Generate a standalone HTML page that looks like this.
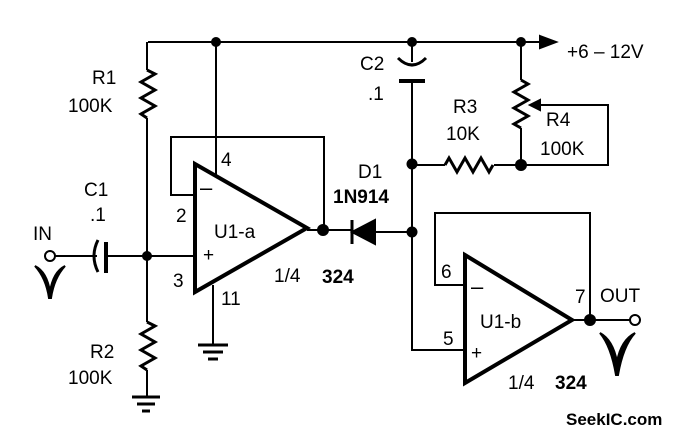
<!DOCTYPE html>
<html><head><style>
html,body{margin:0;padding:0;background:#fff;}
svg{display:block}
text{font-family:"Liberation Sans",sans-serif;fill:#000;}
</style></head><body>
<svg width="678" height="438" viewBox="0 0 678 438" xmlns="http://www.w3.org/2000/svg">
<g stroke="#000" stroke-width="2" fill="none" stroke-linejoin="miter">
<path d="M148 42 H548"/>
<path d="M540 36 L556 42 L540 48 Z" fill="#000"/>
<path d="M147 42 V70 M147 118 V256"/>
<path d="M147 70 l8 4 l-14 8 l14 8 l-14 8 l14 8 l-14 8 l6 4" stroke-width="3"/>
<path d="M147 256 V322 M147 370 V397"/>
<path d="M147 322 l8 4 l-14 8 l14 8 l-14 8 l14 8 l-14 8 l6 4" stroke-width="3"/>
<path d="M132 397 H160 M137 404 H155 M142 411 H150" stroke-width="3"/>
<circle cx="50" cy="256" r="5"/>
<path d="M55 256 H97 M106 256 H147 M195 256 H147"/>
<path d="M98 240 Q90 256 98 272" stroke-width="3"/>
<path d="M106 242 V273" stroke-width="4"/>
<path d="M35 266 Q47 272 50 292 Q53 272 65 266 Q54 278 51 298 L49 298 Q46 278 35 266 Z" fill="#000" stroke-width="2"/>
<path d="M195 164 L307 228 L195 292 Z" stroke-width="4"/>
<path d="M216 42 V176"/>
<path d="M195 195 H171 V137 H324 V230"/>
<path d="M213 285 V345"/>
<path d="M198 345 H228 M203 352 H223 M208 359 H218" stroke-width="3"/>
<path d="M307 230 H352"/>
<path d="M352 232 L375 220 L375 244 Z" fill="#000"/>
<path d="M352 220 V244" stroke-width="3"/>
<path d="M375 232 H412"/>
<path d="M412 42 V62 M412 81 V350 H465"/>
<path d="M398 58 Q412 72 426 58" stroke-width="3"/>
<path d="M399 81 H425" stroke-width="4"/>
<path d="M412 165 H445 M494 165 H521"/>
<path d="M445 165 l4 -7 l8 14 l8 -14 l8 14 l8 -14 l8 14 l4 -7" stroke-width="3"/>
<path d="M521 42 V80 M521 128 V165 H608 V105 H532"/>
<path d="M521 80 l7 4 l-14 8 l14 8 l-14 8 l14 8 l-14 8 l7 4" stroke-width="3"/>
<path d="M530 105 L540 100 L540 110 Z" fill="#000"/>
<path d="M465 255 L572 320 L465 383 Z" stroke-width="4"/>
<path d="M465 285 H435 V213 H590 V320"/>
<path d="M572 320 H630"/>
<circle cx="635" cy="320" r="5"/>
<path d="M600 333 Q613 340 617 362 Q621 340 635 333 Q623 346 618 375 L616 375 Q611 346 600 333 Z" fill="#000" stroke-width="2"/>
</g>
<g fill="#000">
<circle cx="216" cy="42" r="5"/><circle cx="412" cy="42" r="5"/><circle cx="521" cy="42" r="5"/>
<circle cx="147" cy="256" r="5"/><circle cx="323" cy="230" r="6"/>
<circle cx="412" cy="232" r="5.5"/><circle cx="412" cy="164" r="5.5"/><circle cx="521" cy="165" r="6"/>
<circle cx="590" cy="320" r="6"/>
</g>
<g font-size="19">
<text x="92" y="84">R1</text><text x="68" y="112">100K</text>
<text x="90" y="358">R2</text><text x="68" y="384">100K</text>
<text x="84" y="196">C1</text><text x="90" y="221">.1</text>
<text x="33" y="240">IN</text>
<text x="360" y="70">C2</text><text x="368" y="100">.1</text>
<text x="453" y="113">R3</text><text x="446" y="140">10K</text>
<text x="546" y="126">R4</text><text x="540" y="155">100K</text>
<text x="567" y="58">+6 – 12V</text>
<text x="221" y="166">4</text><text x="176" y="222">2</text><text x="173" y="287">3</text>
<text x="221" y="305">11</text>
<text x="214" y="238">U1-a</text>
<text x="274" y="282">1/4</text>
<text x="441" y="278">6</text><text x="443" y="345">5</text>
<text x="575" y="303">7</text><text x="600" y="302">OUT</text>
<text x="480" y="328">U1-b</text>
<text x="508" y="389">1/4</text>
<text x="358" y="178">D1</text>
<text x="200" y="195" font-size="22">–</text><text x="203" y="261">+</text>
<text x="471" y="294" font-size="22">–</text><text x="471" y="359">+</text>
</g>
<g font-size="19" font-weight="bold">
<text x="322" y="283">324</text>
<text x="333" y="203">1N914</text>
<text x="555" y="389">324</text>
<text x="566" y="425" fill="#555" font-size="17">SeekIC.com</text>
</g>
</svg>
</body></html>
